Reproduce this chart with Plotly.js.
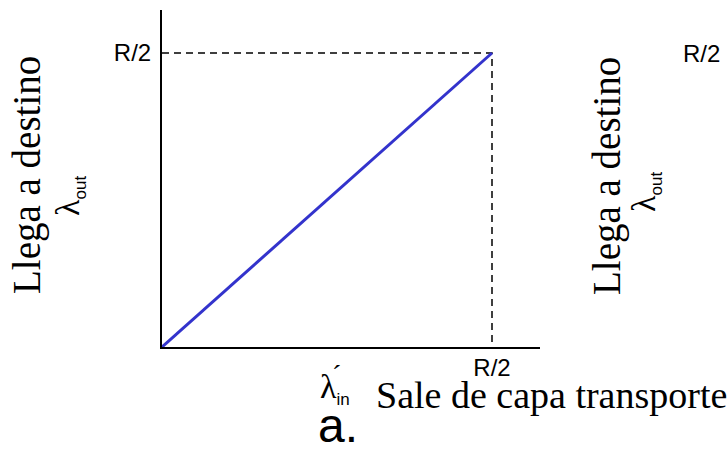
<!DOCTYPE html>
<html>
<head>
<meta charset="utf-8">
<script src="https://cdn.plot.ly/plotly-3.0.1.min.js"></script>
<style>
  html, body { margin: 0; padding: 0; background: #ffffff; }
  #chart { width: 727px; height: 451px; }
</style>
</head>
<body>
<div id="chart"></div>
<script>
// ---- data ----
const throughputX = [0, 1];      // λin (in units of R/2)
const throughputY = [0, 1];      // λout (in units of R/2)
const guideX = [0, 1, 1];        // dashed guide to the R/2 corner
const guideY = [1, 1, 0];
const tickVals = [1];
const tickText = ['R/2'];
const yTitleText = 'Llega a destino';
const ySymbol = 'λ';
const ySub = 'out';
const xTitleText = 'Sale de capa transporte';
const xSymbol = 'λ';
const xAccent = '´';
const xSub = 'in';
const panelLabel = 'a.';

const W = 727, H = 451;
const serif = 'Liberation Serif, Times New Roman, serif';
const sans = 'Liberation Sans, Arial, sans-serif';

const px = x => x / W;
const py = y => 1 - y / H;

const subHtml = (sym, sub) =>
  sym + '<sub><span style="font-family:' + sans + ';font-size:17px">' + sub + '</span></sub>';

const traces = [
  {
    x: guideX, y: guideY, type: 'scatter', mode: 'lines',
    line: { color: '#000000', width: 1.5, dash: '7px,5px' },
    hoverinfo: 'skip', showlegend: false
  },
  {
    x: throughputX, y: throughputY, type: 'scatter', mode: 'lines',
    line: { color: '#3333cc', width: 3 },
    hoverinfo: 'skip', showlegend: false
  }
];

const layout = {
  width: W, height: H,
  margin: { l: 0, r: 0, t: 0, b: 0 },
  paper_bgcolor: '#ffffff', plot_bgcolor: '#ffffff',
  showlegend: false,
  xaxis: {
    domain: [px(162), px(540)],
    range: [0, (540 - 162) / 330],
    showgrid: false, zeroline: false,
    showline: true, linecolor: '#000000', linewidth: 2,
    ticks: '', tickvals: tickVals, ticktext: tickText,
    tickfont: { family: sans, size: 24, color: '#000000' },
    ticklabelstandoff: -2,
    fixedrange: true
  },
  yaxis: {
    domain: [1 - 347 / H, 1 - 10 / H],
    range: [0, (347 - 10) / 294],
    showgrid: false, zeroline: false,
    showline: true, linecolor: '#000000', linewidth: 2,
    ticks: '', tickvals: tickVals, ticktext: tickText,
    tickfont: { family: sans, size: 24, color: '#000000' },
    ticklabelstandoff: 4,
    fixedrange: true
  },
  annotations: [
    // left panel y title
    { xref: 'paper', yref: 'paper', x: px(27), y: py(175), text: yTitleText,
      textangle: -90, showarrow: false, xanchor: 'center', yanchor: 'middle',
      font: { family: serif, size: 39, color: '#000000' } },
    { xref: 'paper', yref: 'paper', x: px(69), y: py(196),
      text: subHtml(ySymbol, ySub),
      textangle: -90, showarrow: false, xanchor: 'center', yanchor: 'middle',
      font: { family: serif, size: 34, color: '#000000' } },
    // x title
    { xref: 'paper', yref: 'paper', x: px(551), y: py(395), text: xTitleText,
      showarrow: false, xanchor: 'center', yanchor: 'middle',
      font: { family: serif, size: 38, color: '#000000' } },
    { xref: 'paper', yref: 'paper', x: px(335), y: py(388),
      text: subHtml(xSymbol, xSub),
      showarrow: false, xanchor: 'center', yanchor: 'middle',
      font: { family: serif, size: 34, color: '#000000' } },
    { xref: 'paper', yref: 'paper', x: px(336), y: py(374), text: xAccent,
      showarrow: false, xanchor: 'center', yanchor: 'middle',
      font: { family: serif, size: 28, color: '#000000' } },
    // panel label
    { xref: 'paper', yref: 'paper', x: px(338), y: py(425), text: panelLabel,
      showarrow: false, xanchor: 'center', yanchor: 'middle',
      font: { family: sans, size: 48, color: '#000000' } },
    // right (partially visible) panel
    { xref: 'paper', yref: 'paper', x: px(701), y: py(53), text: tickText[0],
      showarrow: false, xanchor: 'center', yanchor: 'middle',
      font: { family: sans, size: 24, color: '#000000' } },
    { xref: 'paper', yref: 'paper', x: px(607), y: py(176), text: yTitleText,
      textangle: -90, showarrow: false, xanchor: 'center', yanchor: 'middle',
      font: { family: serif, size: 39, color: '#000000' } },
    { xref: 'paper', yref: 'paper', x: px(645), y: py(192),
      text: subHtml(ySymbol, ySub),
      textangle: -90, showarrow: false, xanchor: 'center', yanchor: 'middle',
      font: { family: serif, size: 34, color: '#000000' } }
  ]
};

Plotly.newPlot('chart', traces, layout, { staticPlot: true, displayModeBar: false });
</script>
</body>
</html>
